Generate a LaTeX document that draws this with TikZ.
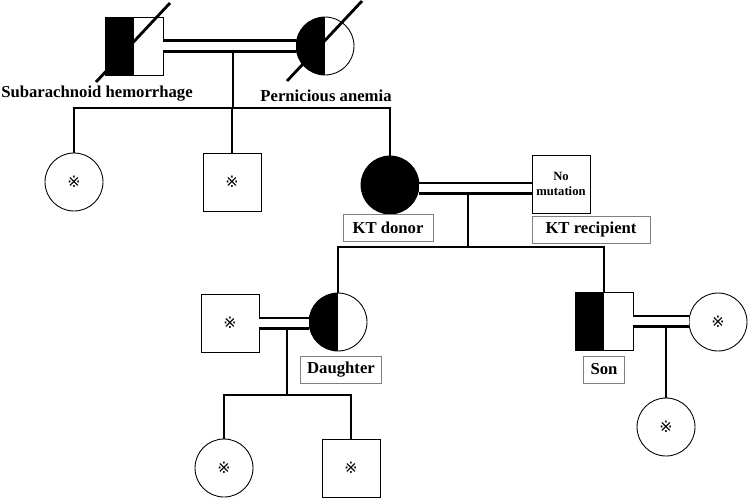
\documentclass[tikz,border=0pt]{standalone}
\usepackage{fontspec}
\setmainfont{Liberation Serif}
\newfontfamily\markfont{DejaVu Sans}
\newcommand{\refmark}{{\markfont\fontsize{9}{9}\selectfont ※}}

\begin{document}
\begin{tikzpicture}[x=0.02cm, y=-0.02cm,
        male/.style={draw, line width=0.5pt, minimum size=1.16cm, inner sep=0pt},
        female/.style={circle, draw, line width=0.5pt, minimum size=1.16cm, inner sep=0pt},
        half/.style={path picture={\fill[black] (path picture bounding box.south west) rectangle (path picture bounding box.north);}},
        marriage/.style={line width=1.7pt, double, double distance=4pt},
        link/.style={line width=1.6pt},
        died/.style={line width=1.6pt},
        disease/.style={font=\bfseries\fontsize{9.5}{11}\selectfont},
        tag/.style={draw=gray, line width=0.5pt, font=\bfseries\fontsize{9.5}{11}\selectfont, minimum height=0.54cm, inner xsep=4pt}]
        \useasboundingbox (0,0) rectangle (749,500);

        % grandparents
        \node[male, half] (fa) at (134,46) {};
        \node[female, half] (mo) at (325,46) {};
        \draw[died] (fa.center) ++(-38,36) -- ++(74,-79);
        \draw[died] (mo.center) ++(-38,35) -- ++(75,-80);
        \node[disease] (sah) at (97,94) {Subarachnoid hemorrhage};
        \node[disease] (pa) at (326,96) {Pernicious anemia};

        % second generation
        \node[female] (s1) at (74,182) {\refmark};
        \node[male] (s2) at (232,182) {\refmark};
        \node[female, fill=black] (kd) at (390,185) {};
        \node[male, font=\bfseries\fontsize{7.2}{8.5}\selectfont, align=center] (nm) at (561,184) {No\\mutation};
        \node[tag, minimum width=1.8cm] (kdl) at (388,227.5) {KT donor};
        \node[tag, minimum width=2.36cm] (ktr) at (591,229.5) {KT recipient};

        % third generation
        \node[male] (hu) at (230,323) {\refmark};
        \node[female, half] (da) at (338,322) {};
        \node[male, half] (so) at (604,321) {};
        \node[female] (wi) at (718,322) {\refmark};
        \node[tag] (dal) at (341,369.5) {Daughter};
        \node[tag] (sol) at (604,369.5) {Son};

        % grandchildren
        \node[female] (g1) at (224,468) {\refmark};
        \node[male] (g2) at (351,468) {\refmark};
        \node[female] (g3) at (666,427) {\refmark};

        \coordinate (m1) at (233,51);
        \coordinate (sib1) at (233,108);
        \coordinate (m2) at (468,193);
        \coordinate (sib2) at (468,247);
        \coordinate (m3) at (287,328);
        \coordinate (sib3) at (287,395);
        \coordinate (m4) at (666,326);

        \draw[marriage] (fa.east) -- (fa.east -| mo.west);
        \draw[marriage] ([yshift=-0.06cm]kd.east) -- ([yshift=-0.06cm]kd.east -| nm.west);
        \draw[marriage] (hu.east) -- (hu.east -| da.west);
        \draw[marriage] (so.east) -- (so.east -| wi.west);

        \draw[link] (m1) -- (sib1);
        \draw[link] (s1.north) -- (s1.north |- sib1) -- (kd.north |- sib1) -- (kd.north);
        \draw[link] (s2.north) -- (s2.north |- sib1);
        \draw[link] (m2) -- (sib2);
        \draw[link] (da.north) -- (da.north |- sib2) -- (so.north |- sib2) -- (so.north);
        \draw[link] (m3) -- (sib3);
        \draw[link] (g1.north) -- (g1.north |- sib3) -- (g2.north |- sib3) -- (g2.north);
        \draw[link] (m4) -- (g3.north);
    \end{tikzpicture}
\end{document}
